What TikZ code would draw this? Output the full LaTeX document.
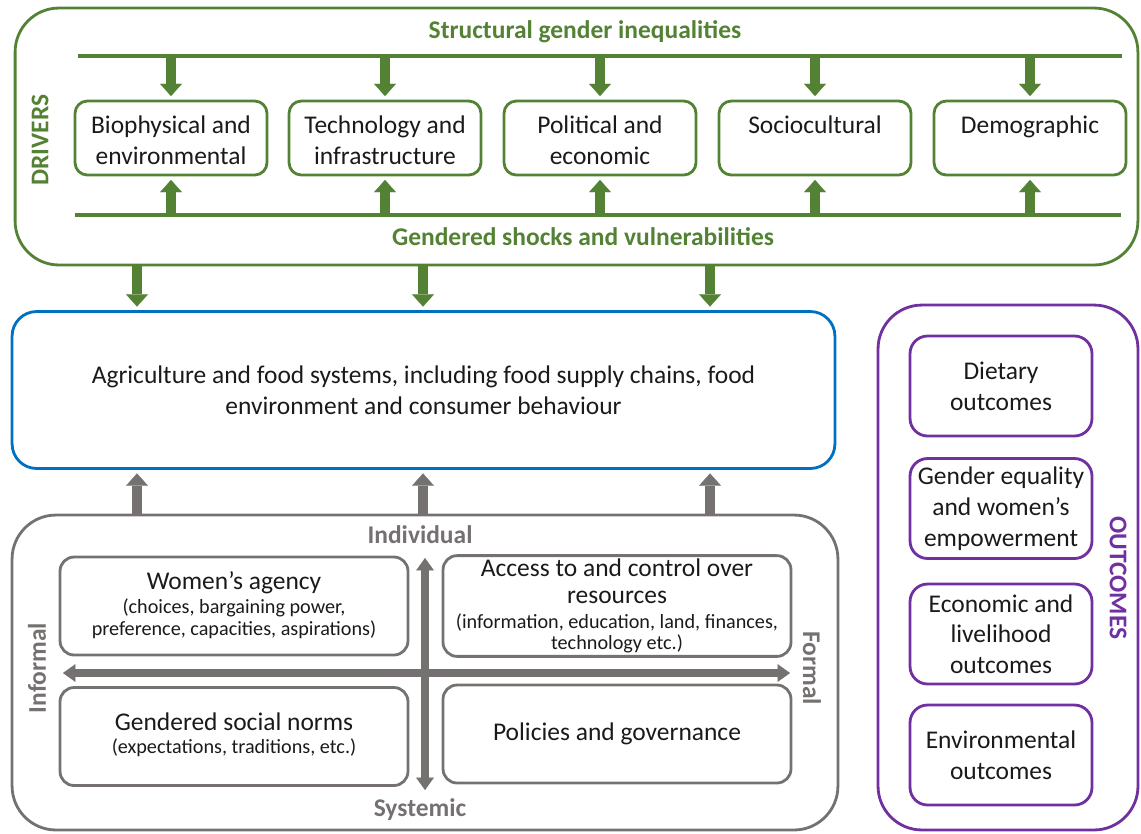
\documentclass[tikz,border=0pt]{standalone}
\usepackage{fontspec}
\setmainfont{Carlito}
\usetikzlibrary{arrows.meta, positioning}
\definecolor{drvgreen}{HTML}{548235}
\definecolor{foodblue}{HTML}{0070C0}
\definecolor{ctxgray}{HTML}{767171}
\definecolor{outpurple}{HTML}{7030A0}
\definecolor{ink}{HTML}{1A1A1A}
\newcommand{\mainsize}{\fontsize{14.5}{17.5}\selectfont}
\newcommand{\subsize}{\fontsize{11.5}{13}\selectfont}
\newcommand{\labsize}{\fontsize{14.5}{17}\selectfont\bfseries}

\begin{document}
\begin{tikzpicture}[x=0.02cm, y=-0.02cm,
  every node/.style={font=\mainsize, text=ink},
  bigbox/.style={draw, line width=1.6pt, rounded corners=25pt},
  drvbox/.style={draw=drvgreen, line width=1.6pt, rounded corners=7pt,
    minimum width=3.84cm, minimum height=1.48cm},
  qbox/.style={draw=ctxgray, line width=1.6pt, rounded corners=8pt,
    minimum width=6.96cm, minimum height=1.96cm, align=center, inner sep=2pt},
  obox/.style={draw=outpurple, line width=1.6pt, rounded corners=10pt,
    minimum width=3.64cm, minimum height=2.0cm, align=center, inner sep=2pt},
  garrow/.style={drvgreen, line width=5.8pt, shorten >=2pt,
    -{Triangle[width=12.5pt, length=7pt, line width=0.1pt]}},
  grarrow/.style={ctxgray, line width=5.8pt, shorten >=2pt,
    -{Triangle[width=12.5pt, length=7pt, line width=0.1pt]}},
  axarrow/.style={ctxgray, line width=4.5pt,
    {Triangle[width=10pt, length=7pt, line width=0.1pt]}-{Triangle[width=10pt, length=7pt, line width=0.1pt]}},
  drvlab/.style={font=\labsize, text=drvgreen},
  ctxlab/.style={font=\labsize, text=ctxgray},
  outlab/.style={font=\labsize, text=outpurple}]
  \useasboundingbox (0,0) rectangle (1141,833);

  % ── Drivers ─────────────────────────────────────────────────────────────
  \node[bigbox, draw=drvgreen, minimum width=22.46cm, minimum height=5.14cm] (drivers) at (576.5,136.5) {};
  \coordinate (topL) at (78,56);  \coordinate (topR) at (1122,56);
  \coordinate (botL) at (75,215); \coordinate (botR) at (1121,215);
  \draw[drvgreen, line width=2.2pt] (topL) -- (topR);
  \draw[drvgreen, line width=2.2pt] (botL) -- (botR);
  \node[drvlab] (sgi) at (585,32) {Structural gender inequalities};
  \node[drvlab] (gsv) at (583,237) {Gendered shocks and vulnerabilities};
  \node[drvlab, rotate=90] (drvname) at (40,140) {DRIVERS};

  \foreach \n/\x/\t in {
    bio/171/{Biophysical and\\environmental},
    tech/385/{Technology and\\infrastructure},
    pol/600/{Political and\\economic},
    soc/815/{Sociocultural},
    dem/1030/{Demographic}}{
    \node[drvbox] (\n) at (\x,138) {};
    \node[below=7pt of \n.north, align=center, inner sep=2pt] (\n-t) {\t};
    \draw[garrow] (\n.north |- topL) -- (\n.north);
    \draw[garrow] (\n.south |- botL) -- (\n.south);
  }

  % ── Food systems ────────────────────────────────────────────────────────
  \node[bigbox, draw=foodblue, rounded corners=14pt, minimum width=16.46cm,
        minimum height=3.14cm, align=center] (food) at (423.5,390)
        {Agriculture and food systems, including food supply chains, food\\
         environment and consumer behaviour};
  \foreach \i/\x in {1/137, 2/423, 3/710}{
    \coordinate (col\i) at (\x,0);
    \draw[garrow] (drivers.south -| col\i) -- (food.north -| col\i);
  }

  % ── Context quadrants ───────────────────────────────────────────────────
  \node[bigbox, draw=ctxgray, minimum width=16.52cm, minimum height=6.3cm] (context) at (425,672.5) {};
  \foreach \i in {1,2,3}{
    \draw[grarrow] (context.north -| col\i) -- (food.south -| col\i);
  }
  \node[qbox, text depth=3pt] (agency) at (234,606)
    {Women's agency\\[-3.5pt]\subsize (choices, bargaining power,\\[-5pt]\subsize preference, capacities, aspirations)};
  \node[qbox] (access) at (617,606)
    {Access to and control over\\[-2.2pt]resources\\[-3.5pt]\subsize (information, education, land, finances,\\[-5.5pt]\subsize technology etc.)};
  \node[qbox, text depth=4pt] (norms) at (234,736.5)
    {Gendered social norms\\[-4.5pt]\subsize (expectations, traditions, etc.)};
  \node[qbox] (policy) at (617,734) {Policies and governance};

  \coordinate (axT) at (425,558); \coordinate (axB) at (425,790);
  \coordinate (axL) at (63,673);  \coordinate (axR) at (790,673);
  \draw[axarrow] (axL) -- (axR);
  \draw[axarrow] (axB) -- (axT);
  \node[ctxlab] (indiv) at (420,535) {Individual};
  \node[ctxlab] (syst) at (420,810) {Systemic};
  \node[ctxlab, rotate=90] (inform) at (37,668) {Informal};
  \node[ctxlab, rotate=-90] (form) at (812,668) {Formal};

  % ── Outcomes ────────────────────────────────────────────────────────────
  \node[bigbox, draw=outpurple, minimum width=5.2cm, minimum height=10.5cm] (outcomes) at (1008,567.5) {};
  \node[obox] (diet) at (1001,386) {Dietary\\outcomes};
  \node[obox] (gender) at (1001,508.5) {Gender equality\\and women's\\empowerment};
  \node[obox] (econ) at (1001,634) {Economic and\\livelihood\\outcomes};
  \node[obox] (env) at (1001,755) {Environmental\\outcomes};
  \node[outlab, rotate=-90] (outname) at (1118,578) {OUTCOMES};
\end{tikzpicture}
\end{document}
